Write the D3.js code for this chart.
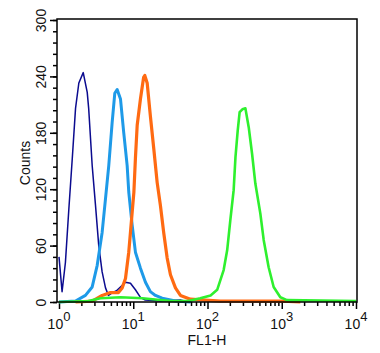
<!DOCTYPE html>
<html>
<head>
<meta charset="utf-8">
<script src="https://cdn.jsdelivr.net/npm/d3@7"></script>
<style>
  body { margin: 0; background: #fff; }
  svg { display: block; }
</style>
</head>
<body>
<div id="chart"></div>
<script>
// FL1-H value, count
const navySeries = [
    [1.0, 48], [1.1, 11], [1.22, 42], [1.36, 100], [1.51, 153], [1.67, 206], [1.85, 233],
    [2.12, 244], [2.4, 223], [2.51, 206], [2.8, 145], [3.1, 103], [3.43, 60], [3.81, 32],
    [4.23, 15], [4.64, 7], [5.25, 10], [5.94, 12], [6.73, 16], [7.85, 21], [9.17, 20],
    [10.7, 13], [12.5, 5], [14.5, 2], [23, 1], [44, 2], [59, 0]
]
const blueSeries = [
    [1.0, 0], [1.67, 1], [2.27, 7], [2.8, 16], [3.27, 39], [3.81, 74], [4.23, 110], [4.68, 145],
    [5.2, 191], [5.64, 222], [6.07, 226], [6.73, 216], [7.45, 180], [8.28, 145], [8.7, 117],
    [9.66, 82], [10.7, 53], [12.5, 36], [14.6, 21], [17.0, 11], [19.9, 7], [24.5, 4], [37, 1], [59, 0]
]
const orangeSeries = [
    [1.67, 0], [2.8, 1], [3.81, 7], [4.93, 10], [6.32, 10], [7.09, 15], [7.86, 25], [8.7, 53],
    [9.17, 74], [10.2, 117], [10.7, 153], [11.3, 188], [12.5, 216], [13.8, 239], [14.3, 241],
    [15.4, 233], [17.0, 198], [18.9, 163], [21.0, 127], [23.2, 103], [25.7, 74], [28.6, 47],
    [31.7, 29], [37.0, 15], [43.2, 7], [58.9, 3], [149, 1], [1019, 1], [1780, 0]
]
const greenSeries = [
    [1.0, 0], [2.49, 1], [3.62, 4], [6.73, 5], [13.3, 4], [31.7, 1], [55, 1], [80, 4], [110, 7],
    [135, 13], [165, 34], [184, 55], [203, 87], [225, 119], [238, 154], [255, 182], [271, 202],
    [295, 205], [324, 206], [359, 186], [398, 158], [441, 126], [515, 94], [571, 66], [666, 37],
    [778, 16], [957, 5], [1178, 2], [10000, 1]
]
const yMajorTicks = [0, 60, 120, 180, 240, 300]
const xMajorTicks = [1, 10, 100, 1000, 10000]

const width = 380
const height = 353
const frame = { left: 57, right: 357, top: 19, bottom: 302 }

const svg = d3.select('#chart').append('svg')
    .attr('width', width)
    .attr('height', height)

const x = d3.scaleLog().domain([1, 10000]).range([59, 356])
const y = d3.scaleLinear().domain([0, 300]).range([frame.bottom, 20])

// y axis, minor then major ticks
svg.append('g')
    .attr('transform', `translate(${frame.left}, 0)`)
    .call(d3.axisLeft(y).tickValues(d3.range(0, 301, 12)).tickSize(4).tickFormat(''))
    .call(g => g.select('.domain').remove())
    .selectAll('line').attr('stroke-width', 1.5)

svg.append('g')
    .attr('transform', `translate(${frame.left}, 0)`)
    .call(d3.axisLeft(y).tickValues(yMajorTicks).tickSize(7))
    .call(g => g.select('.domain').remove())
    .call(g => g.selectAll('line').attr('stroke-width', 1.5))
    .selectAll('text')
    .attr('x', null).attr('dy', null)
    .attr('transform', 'translate(-11, 0) rotate(-90)')
    .attr('text-anchor', 'middle')
    .attr('font-family', 'Liberation Sans, Arial, sans-serif')
    .attr('font-size', 14)
    .attr('fill', '#111')

// x axis
const minorX = []
for (let d = 1; d < 10000; d *= 10) {
    for (let k = 2; k <= 9; k++) minorX.push(d * k)
}

svg.append('g')
    .attr('transform', `translate(0, ${frame.bottom})`)
    .call(d3.axisBottom(x).tickValues(minorX).tickSize(4).tickFormat(''))
    .call(g => g.select('.domain').remove())
    .selectAll('line').attr('stroke-width', 1.5)

const xAxis = svg.append('g')
    .attr('transform', `translate(0, ${frame.bottom})`)
    .call(d3.axisBottom(x).tickValues(xMajorTicks).tickSize(7).tickFormat(''))
    .call(g => g.select('.domain').remove())
xAxis.selectAll('line').attr('stroke-width', 1.5)

const xLabel = svg.selectAll().
    data(xMajorTicks).
    enter().
    append('text').
    attr('x', d => x(d)).
    attr('y', 329).
    attr('text-anchor', 'middle').
    attr('font-family', 'Liberation Sans, Arial, sans-serif').
    attr('font-size', 14).
    attr('fill', '#111')
xLabel.append('tspan').text('10')
xLabel.append('tspan').attr('dy', -8).attr('font-size', 13).text(d => Math.round(Math.log10(d)))

// axis titles
svg.append('text')
    .text('FL1-H')
    .attr('x', 207).attr('y', 345)
    .attr('text-anchor', 'middle')
    .attr('font-family', 'Liberation Sans, Arial, sans-serif')
    .attr('font-size', 14)
    .attr('fill', '#111')

svg.append('text')
    .text('Counts')
    .attr('transform', 'translate(30, 163) rotate(-90)')
    .attr('text-anchor', 'middle')
    .attr('font-family', 'Liberation Sans, Arial, sans-serif')
    .attr('font-size', 14)
    .attr('fill', '#111')

// histograms
const line = d3.line().x(d => x(d[0])).y(d => y(d[1]))
const series = [
    { data: navySeries, color: '#0b0b8f', width: 1.5 },
    { data: blueSeries, color: '#1e9ae8', width: 3 },
    { data: orangeSeries, color: '#ff6a12', width: 3.2 },
    { data: greenSeries, color: '#2ef02e', width: 2.6 }
]

svg.append('g').selectAll('path').
    data(series).
    enter().
    append('path').
    attr('d', d => line(d.data)).
    attr('fill', 'none').
    attr('stroke', d => d.color).
    attr('stroke-width', d => d.width).
    attr('stroke-linejoin', 'round')

// frame
svg.append('rect')
    .attr('x', frame.left).attr('y', frame.top)
    .attr('width', frame.right - frame.left)
    .attr('height', frame.bottom - frame.top)
    .attr('fill', 'none')
    .attr('stroke', '#000')
    .attr('stroke-width', 1.5)
</script>
</body>
</html>
